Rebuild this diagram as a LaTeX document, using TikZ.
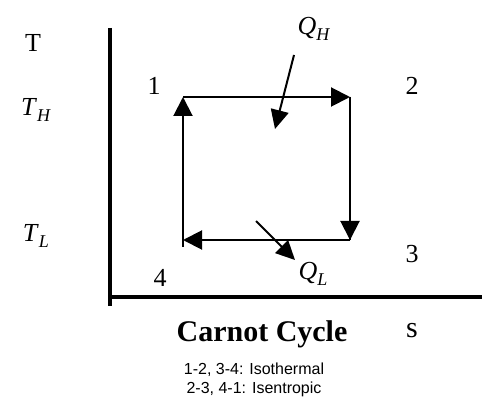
\documentclass[tikz,border=0pt]{standalone}
\usepackage{fontspec}
\setmainfont{Liberation Serif}
\newfontfamily\subfont{Liberation Sans}
\usetikzlibrary{arrows.meta}
\newcommand{\isub}[2]{\textit{#1}\raisebox{-0.25em}{\fontsize{18}{18}\selectfont\textit{#2}}}
\tikzset{
  axis/.style={line width=4.5pt},
  cyc/.style={line width=2pt,-{Triangle[length=19pt,width=19pt]}},
  heat/.style={line width=2pt,-{Triangle[length=19pt,width=18pt]}},
  lbl/.style={inner sep=0pt,font=\fontsize{26}{26}\selectfont},
  big/.style={inner sep=0pt,font=\fontsize{30}{30}\selectfont},
  small/.style={inner sep=0pt,font=\subfont\fontsize{16}{16}\selectfont}
}
\begin{document}
\begin{tikzpicture}[x=1pt,y=-1pt]
\useasboundingbox (0,0) rectangle (482,398);
% axes
\coordinate (ytop) at (110,28);
\coordinate (ybot) at (110,306);
\coordinate (xl) at (108,297);
\coordinate (xr) at (482,297);
\draw[axis] (ytop) -- (ybot);
\draw[axis] (xl) -- (xr);
% cycle corners
\coordinate (p1) at (183,97);
\coordinate (p2) at (350,97);
\coordinate (p3) at (350,240);
\coordinate (p4) at (183,240);
\coordinate (p4b) at (183,247);
\draw[cyc] (p1) -- (p2);
\draw[line width=2pt] (p2) -- (p3);
\draw[cyc] (p2) -- (p3);
\draw[cyc] (p3) -- (p4);
\draw[cyc] (p4b) -- (p1);
% heat arrows
\coordinate (qhs) at (294,55);
\coordinate (qhe) at (275,129);
\coordinate (qls) at (256,221);
\coordinate (qle) at (295,260);
\draw[heat] (qhs) -- (qhe);
\draw[heat] (qls) -- (qle);
% labels
\node[lbl] (T) at (33,43) {T};
\node[lbl] (TH) at (36,110) {\isub{T}{H}};
\node[lbl] (TL) at (36,236) {\isub{T}{L}};
\node[lbl] (n1) at (154,86) {1};
\node[lbl] (n2) at (412,86) {2};
\node[lbl] (n3) at (412,254) {3};
\node[lbl] (n4) at (160,278) {4};
\node[lbl] (QH) at (314,29) {\isub{Q}{H}};
\node[lbl] (QL) at (313,274) {\isub{Q}{L}};
\node[big] (title) at (262,334) {\textbf{Carnot Cycle}};
\node[big] (s) at (412,331) {s};
\node[small] (l1) at (254,370) {1-2, 3-4: Isothermal};
\node[small] (l2) at (254,389) {2-3, 4-1: Isentropic};
\end{tikzpicture}
\end{document}
